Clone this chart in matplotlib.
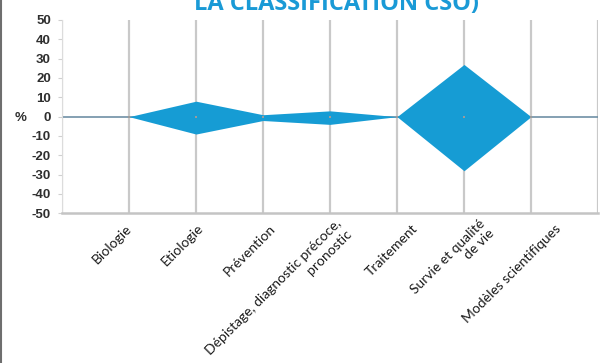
import numpy as np
import matplotlib
matplotlib.use("Agg")
import matplotlib.pyplot as plt
from matplotlib.lines import Line2D

# Categories and the upper / lower envelope (%) of each
categories = [
    "Biologie",
    "Etiologie",
    "Prévention",
    "Dépistage, diagnostic précoce,\npronostic",
    "Traitement",
    "Survie et qualité\nde vie",
    "Modèles scientifiques",
]
upper = [0, 8, 1, 3, 0, 27, 0]
lower = [0, -9, -2, -4, 0, -28, 0]
yticks = [50, 40, 30, 20, 10, 0, -10, -20, -30, -40, -50]
title = "LA CLASSIFICATION CSO)"

BLUE = "#169cd4"
GRID = "#c9c9c9"

W, H = 603, 363
fig = plt.figure(figsize=(W / 100, H / 100), dpi=100)

def px_box(x0, y0, x1, y1):
    return [x0 / W, 1 - y1 / H, (x1 - x0) / W, (y1 - y0) / H]

pos = px_box(62, 20, 598, 213.3)
ax = fig.add_axes(pos)

n = len(categories)
cx = np.arange(1, n + 1)
# envelope closed at both ends of the axis
xs = np.concatenate([[0], cx, [n + 1]])
up = np.concatenate([[0], upper, [0]])
lo = np.concatenate([[0], lower, [0]])

ax.set_xlim(xs[0], xs[-1])
ax.set_ylim(-50, 50)

# vertical grid at every category boundary
ax.set_xticks(xs)
ax.tick_params(axis="x", length=0, labelbottom=False)
ax.grid(axis="x", color=GRID, lw=1.6, zorder=0)
ax.grid(axis="y", visible=False)

# baseline and envelope
ax.hlines(0, xs[0], xs[-1], color="#7090a6", lw=1.2, zorder=2)
ax.fill_between(xs, lo, up, color=BLUE, lw=0, zorder=3)
ax.scatter(cx, np.zeros(n), marker="s", s=2.5, color="#9b9b9b", lw=0, zorder=4)

# y axis
ax.set_yticks(yticks)
ax.set_yticklabels([str(v) for v in yticks], fontfamily="Liberation Sans",
                   fontweight="bold", fontsize=9.5, color="#2e2e2e")
ax.tick_params(axis="y", length=3, width=0.8, color="#d0d0d0", pad=5)

for s in ["top", "right"]:
    ax.spines[s].set_visible(False)
ax.spines["left"].set_color("#dcdcdc")
ax.spines["left"].set_linewidth(0.8)
ax.spines["bottom"].set_color("#c4c4c4")
ax.spines["bottom"].set_linewidth(1.8)

fig.text(21 / W, 1 - 118 / H, "%", fontfamily="Liberation Sans", fontweight="bold",
         fontsize=9.5, color="#2e2e2e", ha="center", va="center")

# category labels, set on their own horizontal scale
lab = fig.add_axes(pos, frameon=False)
lab.set_xlim(0.049, 7.545)
lab.set_ylim(0, 1)
lab.set_yticks([])
lab.set_xticks(cx)
lab.set_xticklabels(categories, fontfamily="Lato", fontsize=10, color="#1a1a1a")
lab.tick_params(axis="x", length=0, pad=9.5)
for t in lab.get_xticklabels():
    t.set_rotation(45)
    t.set_rotation_mode("anchor")
    t.set_ha("right")
    t.set_va("center")
    t.set_multialignment("right")
lab.patch.set_visible(False)

# heading
fig.text(337 / W, 1 - 10 / H, title, fontfamily="Open Sans", fontweight="bold",
         fontsize=17, color="#1a9ad6", ha="center", va="baseline")

# left page border
fig.add_artist(Line2D([0.5 / W, 0.5 / W], [0, 1], color="#6e6e6e", lw=1.5,
                      transform=fig.transFigure))

fig.savefig("out.png", dpi=100)
